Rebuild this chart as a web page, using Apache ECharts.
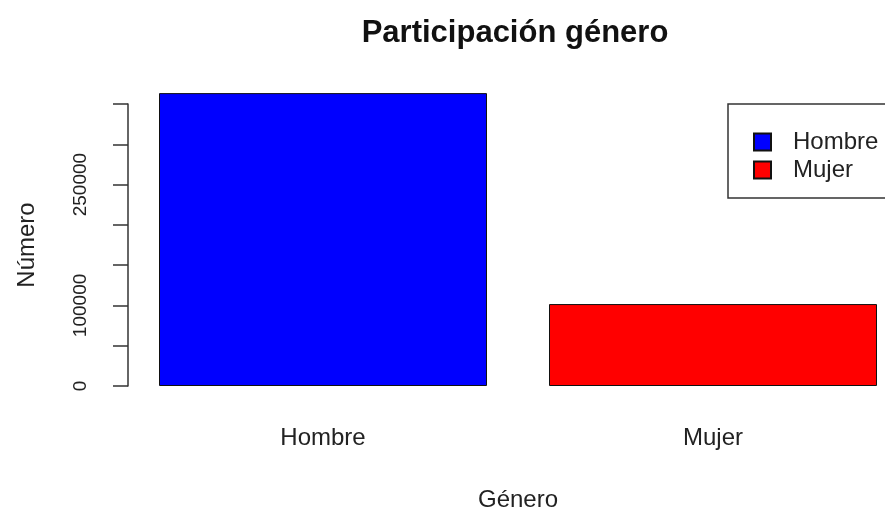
<!DOCTYPE html>
<html>
<head>
<meta charset="utf-8">
<script src="https://cdn.jsdelivr.net/npm/echarts@6/dist/echarts.min.js"></script>
<style>
  html, body { margin: 0; padding: 0; background: #fff; }
  #main { width: 885px; height: 511px; }
</style>
</head>
<body>
<div id="main"></div>
<script>
var categories = ['Hombre', 'Mujer'];
var counts = [363500, 101700];
var colors = ['#0000ff', '#ff0000'];
var shownTicks = [0, 100000, 250000];

var font = '"Liberation Sans", Arial, sans-serif';
var myChart = echarts.init(document.getElementById('main'));

var series = categories.map(function (name, i) {
    var data = categories.map(function (c, j) { return j === i ? counts[i] : null; });
    return {
        name: name,
        type: 'bar',
        data: data,
        barWidth: 328,
        barGap: '-100%',
        clip: false,
        itemStyle: { color: colors[i], borderColor: '#111', borderWidth: 1 }
    };
});

var option = {
    animation: false,
    title: {
        text: 'Participación género',
        left: 510,
        top: 13,
        textAlign: 'center',
        textStyle: { fontFamily: font, fontSize: 31, fontWeight: 'bold', color: '#111' }
    },
    legend: {
        orient: 'vertical',
        left: 728,
        top: 104,
        padding: [26, 80, 16, 25],
        itemGap: 4,
        itemWidth: 17,
        itemHeight: 17,
        borderColor: '#333',
        borderWidth: 1.5,
        borderRadius: 0,
        icon: 'rect',
        data: categories,
        textStyle: { fontFamily: font, fontSize: 24, color: '#222', padding: [0, 0, 0, 17] }
    },
    grid: {
        left: 128, right: -23, top: 104, bottom: 125,
        containLabel: false,
        outerBoundsMode: 'none'
    },
    xAxis: {
        type: 'category',
        data: categories,
        name: 'Género',
        nameLocation: 'middle',
        nameGap: 102,
        nameTextStyle: { fontFamily: font, fontSize: 24, color: '#222' },
        axisLine: { show: false },
        axisTick: { show: false },
        axisLabel: { margin: 40, fontFamily: font, fontSize: 24, color: '#222' }
    },
    yAxis: {
        type: 'value',
        min: 0,
        max: 350000,
        interval: 50000,
        name: 'Número',
        nameLocation: 'middle',
        nameGap: 89,
        nameRotate: 90,
        nameTextStyle: { fontFamily: font, fontSize: 24, color: '#222' },
        splitLine: { show: false },
        axisLine: { show: true, lineStyle: { color: '#333', width: 1.5 } },
        axisTick: { show: true, length: 15, lineStyle: { color: '#333', width: 1.5 } },
        axisLabel: {
            rotate: 90,
            margin: 38,
            fontFamily: font,
            fontSize: 19,
            color: '#222',
            formatter: function (v) { return shownTicks.indexOf(v) >= 0 ? String(v) : ''; }
        }
    },
    series: series
};

myChart.setOption(option);
</script>
</body>
</html>
